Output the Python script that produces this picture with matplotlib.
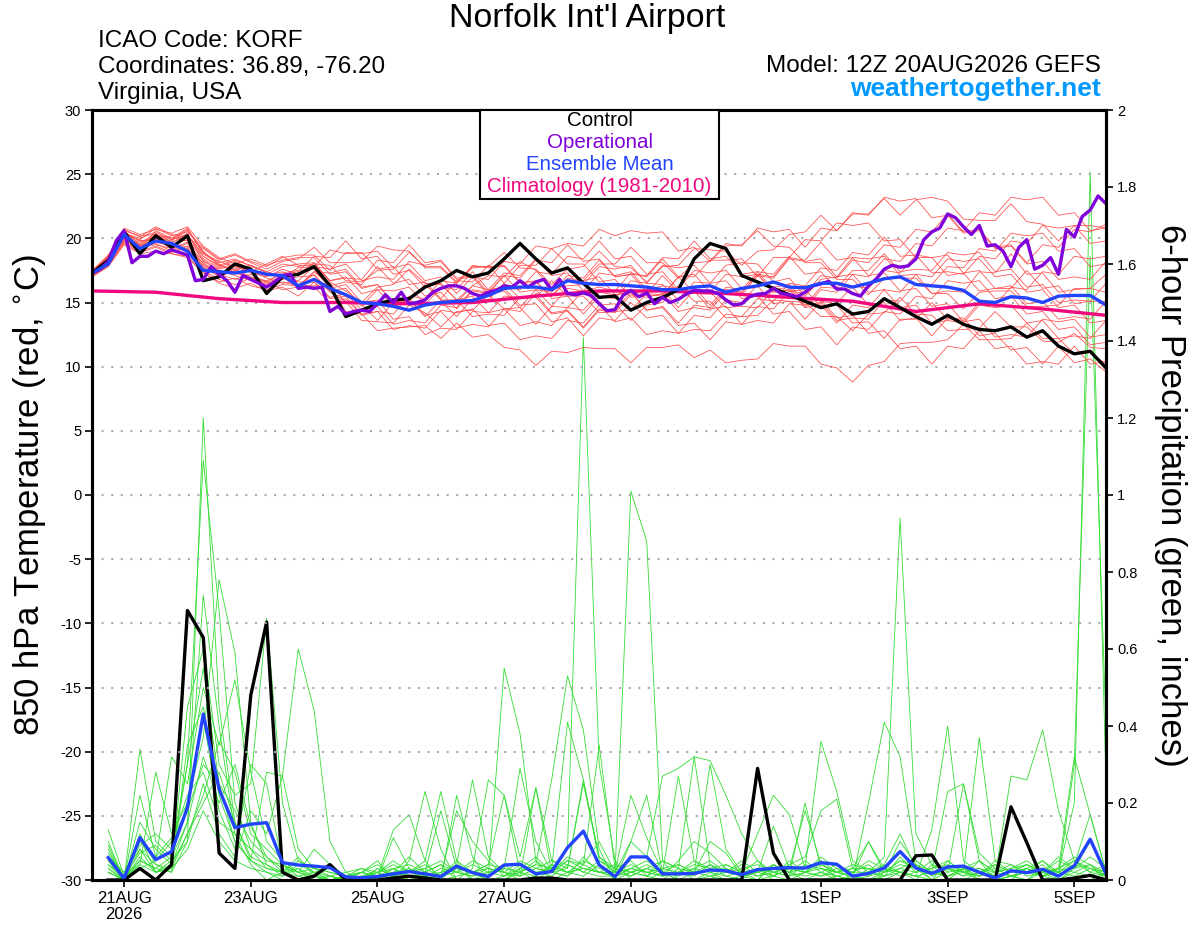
import numpy as np
import matplotlib
matplotlib.use('Agg')
from matplotlib import pyplot as plt
from matplotlib.patches import Rectangle

plt.rcParams['font.family'] = ['Liberation Sans', 'DejaVu Sans']

# forecast hours counted from the 12Z 20AUG2026 run
temp_hours = np.arange(0, 385, 6)
op_hours = np.arange(0, 385, 3)
precip_hours = np.arange(6, 385, 6)
clim_hours = np.arange(0, 385, 24)

date_ticks = [12, 60, 108, 156, 204, 276, 324, 372]
date_labels = ['21AUG\n2026', '23AUG', '25AUG', '27AUG', '29AUG', '1SEP', '3SEP', '5SEP']

# 850 hPa temperature (C)
ctl_temp = [17.3, 18.3, 20.5, 18.8, 20.2, 19.3, 20.2, 16.7, 17.0, 18.0,
            17.6, 15.7, 17.0, 17.2, 17.8, 16.3, 13.9, 14.4, 14.9, 15.2,
            15.3, 16.2, 16.7, 17.5, 17.0, 17.3, 18.4, 19.6, 18.4, 17.3,
            17.7, 16.5, 15.4, 15.5, 14.4, 15.0, 15.4, 16.0, 18.4, 19.6,
            19.2, 17.1, 16.6, 16.1, 15.6, 15.1, 14.6, 14.9, 14.1, 14.3,
            15.3, 14.6, 13.9, 13.3, 14.0, 13.3, 12.9, 12.8, 13.1, 12.3,
            12.8, 11.6, 11.0, 11.2, 9.9]

mean_temp = [17.3, 18.0, 20.3, 19.2, 19.8, 19.6, 19.0, 17.5, 17.4, 17.3,
             17.5, 17.2, 17.1, 16.3, 16.8, 16.1, 15.6, 15.0, 14.9, 14.7,
             14.4, 14.8, 15.0, 15.1, 15.15, 15.55, 16.1, 16.2, 16.2, 16.0,
             16.7, 16.5, 16.4, 16.4, 16.3, 16.2, 16.0, 16.0, 16.2, 16.3,
             15.8, 16.1, 16.3, 16.6, 16.2, 16.15, 16.5, 16.5, 16.2, 16.5,
             16.85, 17.0, 16.4, 16.3, 16.2, 15.95, 15.1, 15.0, 15.45, 15.35,
             15.0, 15.5, 15.55, 15.55, 14.8]

op_temp = [17.3, 17.6, 18.2, 19.8, 20.6, 18.1, 18.6, 18.6, 19.0, 18.8,
           19.1, 18.9, 18.7, 16.7, 16.8, 17.8, 17.2, 16.7, 15.8, 17.1,
           16.8, 16.5, 16.2, 16.6, 17.1, 17.2, 16.1, 16.2, 16.1, 16.2,
           14.3, 14.7, 14.1, 14.3, 14.4, 14.3, 14.9, 15.6, 15.0, 15.8,
           14.9, 15.0, 15.2, 15.8, 16.1, 16.3, 16.3, 16.1, 15.7, 15.5,
           15.8, 15.95, 16.3, 16.2, 16.7, 16.2, 16.6, 16.8, 16.0, 16.8,
           15.7, 15.6, 15.75, 15.55, 14.9, 14.35, 14.45, 15.55, 15.95, 15.45,
           15.75, 14.9, 15.4, 15.0, 15.25, 15.65, 15.95, 15.9, 15.9, 15.7,
           15.2, 14.8, 14.9, 15.45, 15.65, 15.7, 16.1, 15.7, 15.6, 15.45,
           15.8, 16.3, 16.45, 16.65, 16.05, 16.05, 15.7, 15.5, 16.3, 16.85,
           17.6, 17.9, 17.75, 17.85, 18.4, 19.9, 20.5, 20.8, 21.9, 21.6,
           20.9, 20.3, 21.0, 19.4, 19.5, 19.0, 17.8, 19.3, 19.9, 17.6,
           17.9, 18.5, 17.2, 20.7, 20.1, 21.7, 22.2, 23.3, 22.7]

clim_temp = [15.9, 15.8, 15.3, 15.0, 15.0, 14.9, 15.0, 15.5, 15.9,
             15.9, 15.7, 15.4, 15.1, 14.3, 14.9, 14.5, 14.0]

ens_temp = [
    [17.2, 18.0, 20.1, 19.4, 20.3, 19.6, 20.4, 18.2, 17.6, 17.9, 17.3, 17.0, 17.6,
     17.2, 18.1, 16.6, 15.9, 15.0, 16.2, 16.4, 17.6, 16.5, 16.4, 15.2, 16.3, 17.1,
     17.0, 18.2, 17.5, 16.1, 16.3, 16.4, 17.8, 17.6, 17.9, 16.5, 16.4, 15.2, 16.6,
     16.5, 17.9, 18.1, 18.0, 16.6, 16.9, 15.5, 16.8, 17.0, 18.5, 18.4, 18.6, 17.1,
     17.2, 15.7, 15.9, 15.8, 17.4, 17.3, 18.8, 17.2, 17.3, 15.8, 16.0, 16.1, 17.2],
    [17.4, 18.4, 20.5, 19.8, 19.9, 19.2, 19.6, 17.8, 17.0, 17.5, 16.9, 16.5, 17.1,
     16.3, 17.2, 15.8, 15.1, 13.6, 13.5, 13.4, 14.8, 14.2, 13.1, 14.3, 14.4, 15.6,
     14.5, 14.6, 13.3, 14.7, 14.6, 15.9, 14.8, 14.9, 13.6, 14.8, 15.0, 16.3, 15.1,
     15.1, 13.8, 13.9, 14.0, 15.2, 15.1, 15.0, 13.9, 13.9, 12.8, 14.1, 14.2, 15.4,
     14.1, 14.0, 12.8, 12.9, 13.0, 14.3, 13.1, 13.1, 12.0, 11.9, 12.6, 11.5, 11.4],
    [17.1, 17.9, 19.8, 19.1, 20.6, 20.0, 20.8, 18.9, 18.1, 18.4, 17.8, 17.4, 18.0,
     17.8, 18.0, 17.9, 16.7, 16.6, 17.5, 17.6, 18.9, 17.8, 17.8, 16.6, 17.7, 17.8,
     18.9, 17.7, 17.6, 16.4, 17.6, 17.8, 19.0, 17.8, 17.7, 16.6, 17.8, 17.9, 19.2,
     19.1, 19.0, 17.9, 19.0, 19.1, 20.3, 20.5, 21.8, 20.6, 21.9, 21.9, 23.1, 21.8,
     23.0, 23.2, 22.9, 21.5, 21.4, 21.4, 22.7, 21.3, 21.1, 19.8, 21.0, 21.0, 20.8],
    [17.3, 18.1, 20.0, 19.3, 19.6, 19.0, 19.2, 17.5, 16.8, 16.4, 16.9, 16.2, 16.6,
     16.3, 16.2, 16.1, 14.3, 14.1, 12.8, 13.0, 13.1, 13.2, 12.2, 13.4, 12.3, 12.5,
     11.5, 11.3, 10.1, 11.2, 11.1, 11.5, 11.4, 11.4, 10.3, 11.5, 11.5, 11.7, 10.7,
     11.3, 10.3, 10.5, 10.6, 11.8, 11.6, 11.6, 10.2, 9.9, 8.8, 10.1, 10.4, 11.8,
     11.9, 11.9, 12.1, 13.3, 12.1, 12.1, 12.2, 13.4, 12.2, 12.2, 11.0, 11.1, 10.2],
    [17.5, 18.6, 20.7, 20.1, 20.9, 20.3, 20.1, 19.2, 18.3, 18.7, 18.1, 17.6, 18.2,
     18.4, 19.3, 18.1, 18.1, 18.2, 19.4, 19.1, 19.0, 17.7, 17.7, 16.5, 17.8, 17.8,
     17.8, 16.6, 16.6, 15.5, 16.7, 16.7, 18.0, 18.0, 19.3, 18.1, 18.1, 16.9, 18.1,
     18.2, 19.4, 19.5, 20.6, 19.4, 19.3, 18.1, 18.1, 16.8, 16.8, 15.6, 16.9, 16.9,
     16.9, 15.7, 15.7, 14.5, 15.8, 15.9, 15.9, 14.7, 14.7, 14.8, 16.1, 16.1, 15.8],
    [17.0, 17.8, 19.6, 18.9, 19.3, 18.8, 18.6, 17.4, 16.6, 16.9, 16.3, 16.0, 16.4,
     16.3, 16.3, 16.5, 15.0, 14.9, 13.6, 15.0, 15.1, 16.4, 15.2, 15.2, 13.9, 14.1,
     14.0, 15.4, 15.4, 16.7, 15.5, 15.5, 14.2, 14.3, 14.4, 15.7, 15.6, 17.0, 15.8,
     15.8, 14.6, 14.7, 14.6, 16.0, 15.9, 16.0, 14.7, 14.8, 13.4, 13.5, 12.2, 13.7,
     13.7, 15.0, 13.7, 13.8, 12.4, 12.6, 11.3, 11.5, 10.2, 11.6, 10.3, 10.6, 9.6],
    [17.3, 18.3, 20.2, 19.7, 20.1, 19.8, 20.6, 19.0, 17.9, 17.5, 17.9, 17.3, 17.0,
     17.7, 17.8, 19.1, 18.8, 18.9, 17.6, 17.8, 16.4, 16.6, 15.3, 16.7, 16.6, 17.9,
     16.5, 17.9, 17.9, 19.2, 18.0, 18.0, 16.6, 16.8, 15.4, 15.6, 15.5, 17.0, 17.0,
     18.3, 18.3, 18.4, 17.0, 18.5, 18.5, 19.9, 19.8, 21.2, 21.0, 21.2, 19.8, 19.9,
     18.5, 18.5, 17.1, 17.3, 15.9, 16.1, 16.1, 17.5, 16.1, 16.3, 14.9, 15.1, 15.1],
    [17.2, 18.0, 19.9, 19.2, 19.8, 19.3, 19.0, 17.9, 17.2, 17.6, 17.0, 16.6, 17.3,
     17.5, 17.6, 16.1, 16.4, 15.0, 15.2, 13.7, 13.9, 12.5, 13.0, 12.9, 14.3, 14.2,
     15.5, 15.4, 15.6, 14.2, 14.4, 13.1, 14.5, 14.4, 15.8, 15.7, 17.1, 15.8, 15.9,
     14.5, 14.7, 13.3, 13.6, 13.4, 14.9, 14.8, 16.2, 16.1, 17.5, 17.5, 18.8, 17.4,
     17.6, 17.5, 18.9, 18.7, 18.9, 17.4, 17.6, 16.2, 16.4, 15.0, 15.2, 15.1, 16.5],
    [17.4, 18.5, 20.4, 20.0, 20.5, 19.9, 20.3, 18.6, 17.8, 18.2, 17.6, 17.2, 17.8,
     18.0, 18.1, 16.7, 16.9, 16.8, 18.3, 18.1, 19.5, 18.1, 18.3, 16.9, 17.1, 15.8,
     17.1, 16.9, 18.3, 18.1, 19.5, 18.2, 18.4, 17.0, 17.2, 17.1, 18.5, 18.4, 19.8,
     18.4, 18.6, 17.2, 17.4, 16.0, 16.2, 14.8, 15.0, 13.6, 13.8, 13.7, 15.2, 15.1,
     16.5, 16.4, 17.8, 17.7, 19.2, 19.0, 20.4, 20.2, 20.4, 19.0, 19.2, 17.8, 18.0],
    [17.1, 17.9, 19.7, 19.0, 19.4, 18.9, 19.4, 18.3, 17.5, 17.1, 16.7, 16.3, 16.8,
     17.0, 17.1, 15.9, 16.1, 14.7, 16.0, 15.9, 16.2, 14.9, 15.1, 13.9, 15.3, 15.2,
     16.5, 15.3, 15.4, 14.1, 14.3, 13.0, 14.4, 14.2, 15.6, 15.4, 15.7, 14.3, 14.6,
     14.4, 15.8, 15.6, 17.1, 16.9, 18.4, 18.2, 18.4, 17.0, 17.2, 15.8, 16.0, 14.6,
     14.8, 13.4, 13.6, 13.4, 14.8, 14.6, 14.8, 13.4, 13.6, 12.2, 12.4, 12.2, 13.6],
    [17.3, 18.2, 20.6, 19.5, 20.2, 20.1, 19.8, 18.4, 17.7, 18.0, 17.4, 17.1, 17.4,
     16.6, 16.6, 15.4, 15.7, 14.4, 14.7, 13.3, 13.6, 13.4, 14.8, 14.6, 16.0, 15.8,
     16.1, 14.8, 14.9, 13.5, 13.8, 12.4, 13.8, 13.6, 15.0, 13.8, 14.0, 12.6, 12.9,
     12.8, 14.1, 13.9, 15.3, 15.1, 16.5, 16.3, 17.7, 17.5, 18.9, 18.7, 20.1, 18.6,
     18.7, 17.3, 17.4, 17.2, 18.6, 18.4, 19.8, 19.6, 21.0, 20.8, 21.0, 19.6, 19.8],
    [17.5, 18.7, 20.8, 20.3, 20.7, 20.4, 20.9, 19.4, 18.5, 18.0, 18.4, 17.9, 18.3,
     18.5, 18.5, 17.2, 17.4, 16.1, 16.4, 15.0, 15.2, 13.9, 15.2, 15.0, 16.3, 16.0,
     17.3, 17.1, 18.4, 17.1, 17.3, 15.9, 16.2, 15.9, 17.3, 17.0, 18.4, 17.0, 17.2,
     15.8, 16.0, 15.8, 17.2, 17.0, 18.5, 18.3, 19.7, 18.3, 18.5, 17.1, 17.3, 15.9,
     16.1, 14.7, 14.9, 13.5, 13.7, 12.3, 12.5, 12.3, 13.7, 13.5, 13.7, 12.3, 12.5],
    [17.2, 18.1, 20.0, 19.6, 20.4, 19.7, 20.2, 18.8, 18.0, 17.3, 16.9, 16.7, 17.2,
     17.4, 18.6, 18.5, 19.8, 18.4, 18.6, 17.2, 17.5, 16.2, 16.5, 15.2, 15.5, 14.2,
     14.5, 13.2, 13.5, 13.2, 14.6, 14.4, 15.8, 15.6, 15.8, 14.4, 14.7, 13.4, 14.8,
     14.6, 16.0, 15.8, 17.2, 15.8, 16.0, 14.6, 14.8, 13.4, 14.8, 14.6, 16.0, 15.8,
     17.2, 17.0, 18.4, 18.2, 18.4, 17.0, 17.2, 15.8, 16.0, 14.6, 14.8, 13.4, 13.6],
    [17.4, 18.3, 20.2, 19.5, 19.7, 19.4, 19.1, 18.1, 17.3, 17.7, 17.5, 16.9, 16.5,
     16.7, 17.8, 17.6, 18.0, 16.7, 17.0, 16.8, 18.2, 17.9, 18.2, 16.8, 17.0, 15.6,
     15.9, 14.6, 16.0, 15.8, 17.1, 16.9, 18.3, 17.0, 17.2, 15.8, 16.0, 14.6, 16.0,
     15.8, 17.2, 17.0, 17.2, 15.8, 16.0, 14.6, 16.0, 15.8, 17.2, 17.0, 18.4, 18.2,
     19.6, 19.4, 20.8, 20.6, 22.0, 21.8, 23.2, 23.0, 23.2, 21.8, 22.0, 20.6, 20.8],
    [17.1, 17.8, 19.5, 18.8, 19.0, 18.8, 18.5, 17.3, 16.5, 16.1, 16.5, 15.9, 16.2,
     15.5, 16.6, 15.3, 15.5, 14.1, 14.3, 12.9, 13.2, 13.0, 14.4, 14.2, 14.5, 13.2,
     13.4, 12.1, 12.4, 12.2, 13.6, 13.4, 14.8, 13.5, 13.8, 12.5, 12.8, 12.6, 14.0,
     13.8, 15.2, 15.0, 16.4, 16.2, 16.4, 15.0, 15.2, 13.8, 14.0, 12.6, 12.8, 11.4,
     11.6, 10.2, 11.6, 11.4, 12.8, 11.4, 11.6, 10.2, 10.4, 10.2, 11.6, 10.2, 10.4],
    [17.3, 18.4, 20.3, 19.9, 20.8, 20.2, 20.5, 19.3, 18.4, 18.8, 18.2, 17.8, 18.5,
     18.7, 18.7, 17.5, 18.9, 18.8, 19.0, 17.7, 18.0, 16.7, 17.0, 15.7, 17.0, 16.8,
     18.2, 18.0, 19.4, 19.2, 19.6, 19.4, 20.7, 20.2, 20.6, 20.4, 20.5, 19.0, 19.3,
     18.2, 19.6, 19.4, 20.8, 20.5, 20.7, 19.3, 20.8, 20.6, 22.0, 21.8, 23.2, 22.9,
     23.1, 21.6, 21.8, 20.4, 20.6, 19.2, 19.4, 18.0, 18.2, 16.8, 17.0, 16.8, 18.2],
    [17.2, 18.1, 20.1, 19.4, 19.9, 19.5, 19.9, 18.6, 17.9, 18.3, 17.9, 17.4, 17.0,
     16.3, 17.4, 16.3, 16.6, 16.4, 17.8, 16.5, 16.8, 15.5, 15.8, 14.5, 15.9, 15.7,
     17.1, 15.8, 16.0, 14.7, 16.1, 15.9, 17.3, 17.1, 17.4, 16.0, 16.3, 16.1, 17.5,
     17.3, 17.5, 16.1, 16.3, 14.9, 15.1, 13.7, 15.1, 14.9, 16.3, 16.1, 17.5, 17.3,
     18.7, 18.5, 18.7, 17.3, 17.5, 16.1, 16.3, 14.9, 15.1, 13.7, 13.9, 13.7, 15.1],
    [17.3, 18.0, 20.4, 19.8, 20.0, 19.6, 19.3, 17.7, 17.1, 17.4, 16.8, 16.4, 17.0,
     16.1, 16.2, 15.0, 15.3, 14.0, 14.3, 14.1, 15.5, 15.3, 16.7, 16.5, 17.9, 17.7,
     17.9, 16.5, 16.7, 15.3, 15.5, 14.1, 15.5, 15.3, 16.7, 16.5, 17.9, 17.7, 17.9,
     16.5, 16.7, 15.3, 15.5, 14.1, 14.3, 12.9, 13.1, 11.7, 13.1, 12.9, 14.3, 14.1,
     15.5, 15.3, 16.7, 16.5, 16.7, 15.3, 15.5, 14.1, 14.3, 12.9, 13.1, 11.7, 11.9],
    [17.4, 18.6, 20.6, 20.2, 20.3, 19.9, 20.7, 18.8, 18.2, 17.8, 17.4, 18.0, 18.6,
     17.9, 17.9, 16.7, 17.0, 15.7, 16.0, 14.7, 15.0, 14.8, 16.2, 16.0, 17.4, 16.0,
     16.2, 16.0, 17.4, 17.2, 18.6, 18.4, 19.8, 18.4, 18.6, 17.2, 17.4, 16.0, 16.2,
     14.8, 16.2, 16.0, 17.4, 17.2, 18.6, 17.2, 17.4, 16.0, 16.2, 14.8, 15.0, 13.6,
     13.8, 12.4, 13.8, 13.6, 15.0, 14.8, 16.2, 16.0, 17.4, 17.2, 18.6, 18.4, 18.6],
    [17.2, 17.9, 19.9, 19.3, 19.5, 19.2, 19.7, 18.0, 17.2, 16.8, 17.2, 16.6, 16.0,
     16.2, 17.4, 17.3, 17.6, 16.2, 16.4, 15.0, 15.3, 14.0, 14.3, 13.0, 13.3, 13.1,
     14.5, 14.3, 15.7, 15.5, 16.9, 16.7, 17.0, 15.6, 15.8, 14.4, 14.6, 13.2, 13.4,
     12.1, 13.5, 13.3, 14.7, 14.5, 15.9, 15.7, 17.1, 16.9, 18.3, 18.1, 19.5, 19.3,
     20.7, 20.5, 21.9, 20.5, 20.7, 19.3, 19.5, 18.1, 19.5, 19.3, 20.7, 20.5, 21.1],
]

# 6-hour precipitation (inches)
ctl_precip = [0, 0, .03, 0, .04, .70, .63, .07, .03, .48, .67, .02, 0, .01, .04, 0,
              0, 0, .005, .01, .005, 0, 0, 0, 0, 0, 0, .005, .005, 0, 0, 0,
              0, 0, 0, 0, 0, 0, 0, 0, 0, .29, .07, 0, 0, 0, 0, 0,
              0, 0, 0, .063, .065, 0, 0, 0, 0, .19, .097, 0, 0, .005, .012, 0]

mean_precip = [.058, .004, .110, .053, .074, .188, .431, .236, .136, .145, .149, .045, .039, .036, .032, .008,
               .006, .009, .016, .022, .016, .009, .036, .019, .009, .039, .041, .016, .022, .084, .127, .039,
               .009, .060, .060, .016, .016, .017, .026, .024, .014, .027, .030, .032, .031, .045, .041, .010,
               .017, .031, .074, .031, .017, .034, .036, .020, .005, .024, .019, .028, .010, .037, .106, .016]

ens_precip = [
    [.05, 0, .12, .04, .02, .10, 1.20, .45, .15, .05, .02, 0, 0, .01, 0, 0,
     0, 0, .03, 0, 0, .01, .05, 0, 0, 0, .02, 0, .03, .08, 1.41, .30,
     .05, 0, 0, .02, 0, 0, .01, 0, 0, .03, 0, 0, .02, .05, 0, 0,
     0, .02, .10, .04, 0, 0, .03, 0, 0, .01, 0, .02, 0, 0, 0, .02],
    [.10, 0, .08, .02, .05, .30, 1.09, .70, .20, .08, .03, .02, .06, .01, 0, 0,
     .02, .05, 0, 0, .01, 0, .04, .02, 0, 0, .03, .06, .02, .01, .04, .10,
     .02, 1.01, .88, .05, 0, 0, .02, .01, 0, 0, .04, .02, 0, 0, .01, 0,
     .03, 0, .02, .01, 0, .05, .02, 0, 0, 0, .03, .01, 0, .02, .04, 0],
    [.02, 0, .34, .10, .06, .15, .74, .40, .12, .04, 0, .02, 0, 0, 0, .01,
     0, .03, .01, 0, .02, .04, 0, 0, .01, .55, .38, .05, 0, .02, .01, .04,
     0, .02, .01, 0, .03, 0, 0, .04, .02, 0, .01, 0, 0, .02, 0, .01,
     0, .01, .02, 0, .04, 0, 0, .02, 0, .01, 0, .03, .02, .20, 1.84, .25],
    [.13, .01, .04, .28, .12, .20, .37, .78, .59, .15, .04, .01, .03, 0, 0, 0,
     .01, 0, .11, .03, .01, 0, .22, .06, 0, .01, .02, .04, .26, .53, .39, .08,
     0, .10, .22, .02, 0, .02, .10, .07, .01, 0, .04, .01, .02, .06, .03, 0,
     .01, .04, .12, .03, 0, .02, .25, .05, 0, .01, .03, .05, .01, .30, 1.62, .40],
    [.04, 0, .10, .05, .32, .25, .50, .35, .52, .28, .10, .05, .02, .01, 0, 0,
     0, .02, 0, .05, .23, .08, 0, .03, .26, .22, .06, .24, .05, .03, .26, .05,
     .02, .10, .06, .27, .29, .32, .31, .22, .12, .05, .02, .03, .02, .03, .01, 0,
     .20, .41, .32, .05, .02, .01, .03, .05, .02, .01, .02, .04, 0, .03, .10, .02],
    [.08, 0, .06, .02, .03, .45, .60, .30, .22, .25, .68, .20, .05, .02, .01, 0,
     .02, .01, .13, .17, .05, 0, .01, .02, .04, .03, .29, .10, .02, .01, .06, .02,
     .01, .03, .02, .01, .05, .10, .07, .03, .01, .02, .14, .03, .02, .04, .02, .01,
     .02, .06, .94, .12, .04, .03, .02, .01, .04, .02, .03, .01, .03, .06, .04, .01],
    [.03, 0, .22, .06, .11, .18, .30, .25, .10, .05, .28, .27, .60, .44, .10, .02,
     0, .01, .02, .06, .02, .18, .03, 0, .02, .04, .01, .24, .02, .05, .04, .35,
     .03, .05, .01, .03, .02, .01, .04, .02, .02, .12, .22, .17, .03, .36, .23, .05,
     .02, .03, .02, .01, .13, .40, .05, .02, .01, .27, .26, .39, .18, .05, .03, .01],
    [.06, .02, .09, .12, .08, .30, .55, .25, .18, .10, .06, .03, .02, .08, .04, .01,
     .02, 0, .01, .03, 0, .02, .04, .26, .06, .02, 0, .01, .04, .02, .03, .02,
     .02, .22, .11, .02, .27, .05, .02, 0, .01, .03, .02, .01, .20, .03, .02, .01,
     .10, .02, .05, .03, .02, .23, .25, .07, .03, .01, .02, .01, .03, .32, .17, .02],
    [.02, 0, .15, .08, .04, .12, .22, .36, .28, .12, .08, .04, .02, 0, .01, 0,
     .01, .02, .04, .02, .03, .01, .18, .10, .05, .01, .04, .02, .03, .41, .26, .06,
     .03, .01, .03, .05, .03, .32, .04, .02, .04, .01, .03, .02, .05, .02, .01, .02,
     .04, .01, .06, .02, .03, .04, .02, .37, .05, .02, .04, .02, .05, .03, .06, .03],
    [.09, 0, .05, .03, .06, .20, .42, .18, .08, .30, .25, .04, .01, 0, 0, 0,
     0, .01, 0, .02, .05, .23, .05, .02, .03, .02, .05, .03, .02, .06, .04, .02,
     .02, .04, .02, .03, .04, .02, .30, .08, .02, .05, .01, .03, .18, .04, .02, .03,
     .03, .02, .05, .04, .01, .03, .02, .01, .05, .04, .02, .03, .02, .04, .17, .02],
    [.05, .01, .07, .09, .05, .10, .25, .12, .06, .18, .12, .27, .08, .03, .02, .01,
     0, .03, .01, .02, .04, .01, .03, .02, .04, .22, .02, .05, .02, .03, .25, .06,
     .02, .03, .05, .02, .02, .05, .03, .04, .02, .01, .02, .04, .06, .18, .21, .03,
     .10, .03, .02, .04, .02, .03, .01, .05, .02, .03, .04, .02, .06, .03, .04, .02],
    [.03, 0, .04, .02, .04, .15, .32, .20, .30, .14, .06, .02, .03, .01, .01, 0,
     .01, .02, .03, .01, .02, .04, .02, .01, .03, .02, .01, .03, .05, .04, .02, .01,
     .01, .02, .04, .02, .01, .03, .02, .03, .01, .02, .04, .02, .03, .05, .02, .01,
     .02, .01, .03, .02, .05, .02, .03, .01, .02, .03, .05, .02, .01, .04, .03, .01],
    [.07, .01, .03, .05, .10, .22, .28, .15, .12, .08, .05, .04, .02, .03, .01, .02,
     .03, .01, .02, .03, .01, .02, .03, .02, .01, .03, .02, .04, .03, .02, .05, .03,
     .02, .01, .03, .02, .04, .02, .01, .02, .03, .04, .02, .01, .04, .03, .02, .04,
     .03, .02, .04, .03, .02, .01, .03, .02, .04, .02, .03, .01, .02, .05, .02, .04],
    [.02, 0, .11, .02, .03, .08, .18, .10, .05, .03, .02, .01, .04, .02, 0, .01,
     .02, .04, .01, .02, .03, .05, .02, .04, .02, .01, .03, .02, .01, .04, .02, .05,
     .03, .02, .01, .05, .03, .02, .04, .01, .02, .03, .01, .05, .02, .01, .03, .02,
     .05, .03, .01, .02, .03, .05, .02, .03, .01, .02, .04, .02, .03, .02, .01, .03],
    [.04, .01, .05, .03, .02, .35, .45, .22, .10, .05, .03, .02, .05, .03, .02, .01,
     .03, .02, .05, .02, .01, .03, .02, .01, .02, .03, .02, .01, .04, .02, .03, .02,
     .01, .03, .02, .01, .02, .03, .05, .02, .01, .02, .03, .02, .01, .02, .04, .02,
     .02, .04, .02, .01, .02, .03, .01, .02, .03, .01, .02, .05, .02, .01, .03, .02],
    [.06, .02, .08, .04, .03, .12, .20, .28, .15, .06, .04, .02, .01, .02, .03, .01,
     .02, .01, .03, .04, .02, .01, .02, .05, .03, .02, .01, .03, .02, .05, .03, .02,
     .04, .02, .03, .01, .02, .04, .03, .02, .05, .02, .01, .03, .02, .01, .02, .03,
     .01, .02, .03, .05, .02, .01, .02, .03, .02, .04, .01, .02, .03, .05, .02, .01],
]

W, H = 1200, 927


def fx(px):
    return px / W


def fy(py):
    return 1 - py / H


fig = plt.figure(figsize=(W / 100, H / 100), dpi=100)
ax_p = fig.add_axes([fx(92.4), fy(880), (1106 - 92.4) / W, 770 / H])
ax_t = ax_p.twinx()

# precipitation on the bottom axes, right hand scale
for member in ens_precip:
    ax_p.plot(precip_hours[:len(member)], member, color='#33dd33', lw=0.6)
ax_p.plot(precip_hours, ctl_precip, color='black', lw=2.4)
ax_p.plot(precip_hours, mean_precip, color='#2244ff', lw=2.4)

# temperature on top, left hand scale
for member in ens_temp:
    ax_t.plot(temp_hours[:len(member)], member, color='#ff4a4a', lw=0.55)
ax_t.plot(clim_hours, clim_temp, color='#f0087f', lw=2.4)
ax_t.plot(temp_hours, ctl_temp, color='black', lw=2.4)
ax_t.plot(op_hours[:len(op_temp)], op_temp, color='#7f00d9', lw=2.4)
ax_t.plot(temp_hours, mean_temp, color='#2244ff', lw=2.4)

ax_p.set_xlim(0, 384)
ax_p.set_ylim(0, 2)
ax_t.set_ylim(-30, 30)

ax_t.yaxis.tick_left()
ax_p.yaxis.tick_right()

ax_t.set_yticks(range(-30, 31, 5))
ax_t.set_yticklabels([str(v) for v in range(-30, 31, 5)], fontsize=10.5)
precip_ticks = [0, 0.2, 0.4, 0.6, 0.8, 1, 1.2, 1.4, 1.6, 1.8, 2]
ax_p.set_yticks(precip_ticks)
ax_p.set_yticklabels([f'{v:g}' for v in precip_ticks], fontsize=10.5)
ax_p.set_xticks(date_ticks)
ax_p.set_xticklabels(date_labels, fontsize=12, linespacing=1.05)

for a in (ax_p, ax_t):
    a.tick_params(direction='out', length=5, width=1.2, pad=3)
    for s in a.spines.values():
        s.set_linewidth(2.2)

for v in range(-25, 30, 5):
    ax_t.axhline(v, color='#aaaaaa', lw=1.5, ls=(0, (1, 3.6)), zorder=0)

fig.text(fx(30), fy(495), '850 hPa Temperature (red, $^{\\circ}$C)', rotation=90,
         ha='center', va='center', fontsize=25)
fig.text(fx(1170), fy(495), '6-hour Precipitation (green, inches)', rotation=270,
         ha='center', va='center', fontsize=25)

# header
fig.text(fx(587), fy(27.5), "Norfolk Int'l Airport", ha='center', va='baseline', fontsize=24.5)
fig.text(fx(98), fy(47), 'ICAO Code: KORF', ha='left', va='baseline', fontsize=17.5)
fig.text(fx(98), fy(73), 'Coordinates: 36.89, -76.20', ha='left', va='baseline', fontsize=17.5)
fig.text(fx(98), fy(99), 'Virginia, USA', ha='left', va='baseline', fontsize=17.5)
fig.text(fx(1101), fy(72), 'Model: 12Z 20AUG2026 GEFS', ha='right', va='baseline', fontsize=17.5)
fig.text(fx(1101), fy(96), 'weathertogether.net', ha='right', va='baseline', fontsize=19,
         fontweight='bold', color='#0099ff')

# legend box
fig.patches.append(Rectangle((fx(480), fy(199)), (719 - 480) / W, 89 / H, transform=fig.transFigure,
                             facecolor='white', edgecolor='black', lw=1.5))
legend_items = [('Control', 'black'), ('Operational', '#7f00d9'),
                ('Ensemble Mean', '#2244ff'), ('Climatology (1981-2010)', '#f0087f')]
for n, (label, color) in enumerate(legend_items):
    fig.text(fx(599.5), fy(121 + 21.7 * n), label, color=color, ha='center', va='center', fontsize=14.8)

fig.savefig('out.png', dpi=100)
